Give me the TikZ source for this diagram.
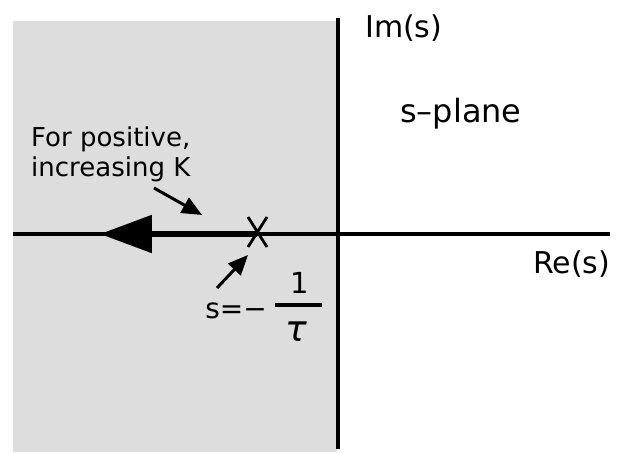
\documentclass[tikz,border=0pt]{standalone}
\usepackage{fontspec}
\setmainfont{DejaVu Sans}
\usetikzlibrary{arrows.meta}
\definecolor{lhpgray}{HTML}{DDDDDD}

\begin{document}
\begin{tikzpicture}[x=1pt, y=1pt,
        axis/.style={line width=3.5pt},
        lbl/.style={inner sep=0pt, font=\fontsize{30}{34}\selectfont},
        note/.style={inner sep=0pt, font=\fontsize{26}{30}\selectfont},
        ptr/.style={line width=3pt, -{Triangle[length=20pt, width=17pt]}}]
      \useasboundingbox (-338,-219) rectangle (284,234);

      % left half-plane, shaded
      \fill[lhpgray] (-325,-218) rectangle (-1,213);
      \draw[axis] (-325,0) -- (272,0);
      \draw[axis] (0,-215) -- (0,216);

      \node[lbl, anchor=base west] (im)    at (27,196)  {Im(s)};
      \node[lbl, anchor=base west] (re)    at (195,-39) {Re(s)};
      \node[lbl, anchor=base west, font=\fontsize{32}{36}\selectfont] (plane) at (62,112) {s--plane};

      % open-loop pole and its locus for growing K
      \coordinate (pole)    at (-81,0);
      \coordinate (locusEnd) at (-238,0);
      \draw[line width=5.5pt, -{Triangle[length=52pt, width=37pt]}] (pole) -- (locusEnd);
      \draw[line width=2.8pt] ([shift={(-9,17)}]pole) -- ([shift={(10,-13)}]pole)
                            ([shift={(10,17)}]pole) -- ([shift={(-9,-13)}]pole);

      \node[note, anchor=north west, align=left] (dir) at (-307,107) {For positive,\\increasing K};
      \coordinate (kTail) at (-184,46);
      \coordinate (kTip)  at (-136,19);
      \draw[ptr] (kTail) -- (kTip);

      % s = -1/tau
      \node[note, anchor=base east, font=\fontsize{28}{32}\selectfont] (seq) at (-71,-84) {s=−};
      \coordinate (barL) at (-63,-71);
      \coordinate (barR) at (-16,-71);
      \draw[line width=3.5pt] (barL) -- (barR);
      \node[note, anchor=base, font=\fontsize{29}{32}\selectfont] (num) at (-38,-59) {1};
      \node[note, anchor=base, font=\fontsize{36}{40}\selectfont\itshape] (den) at (-42,-107) {τ};
      \coordinate (poleTail) at (-121,-54);
      \coordinate (poleTip)  at (-90,-21);
      \draw[ptr] (poleTail) -- (poleTip);
    \end{tikzpicture}
\end{document}
